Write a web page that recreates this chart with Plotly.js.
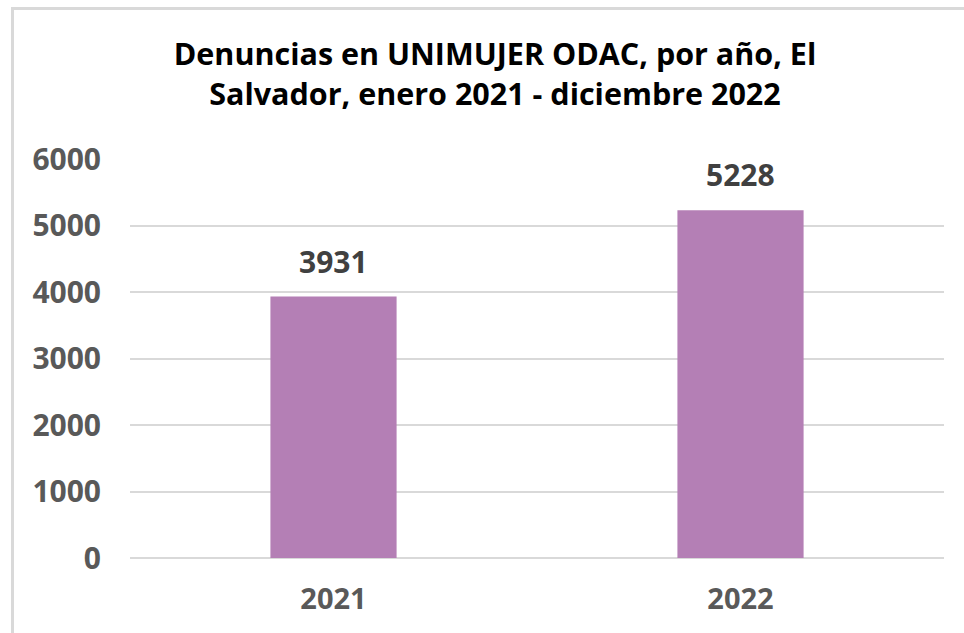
<!DOCTYPE html>
<html>
<head>
<meta charset="utf-8">
<script src="https://cdn.plot.ly/plotly-3.0.1.min.js"></script>
<style>
  html, body { margin: 0; padding: 0; background: #ffffff; overflow: hidden; }
  #wrap { position: relative; width: 964px; height: 633px; }
  #chart { position: absolute; left: 0; top: 0; width: 964px; height: 633px; }
  #frame { position: absolute; left: 11px; top: 7px; width: 980px; height: 660px;
           border-left: 3px solid #d9d9d9; border-top: 3px solid #d9d9d9; pointer-events: none; }
</style>
</head>
<body>
<div id="wrap">
  <div id="chart"></div>
  <div id="frame"></div>
</div>
<script>
const categories = ["2021", "2022"];
const values = [3931, 5228];
const yTicks = [0, 1000, 2000, 3000, 4000, 5000, 6000];
const titleText = "Denuncias en UNIMUJER ODAC, por año, El<br>Salvador, enero 2021 - diciembre 2022";

const FONT = "Open Sans, Noto Sans, sans-serif";

const trace = {
  type: "bar",
  x: categories,
  y: values,
  marker: { color: "#b47fb5" },
  hoverinfo: "x+y"
};

const annotations = categories.map((c, i) => ({
  x: i, y: values[i], xref: "x", yref: "y",
  text: String(values[i]),
  showarrow: false,
  yanchor: "bottom",
  yshift: 13,
  font: { family: FONT, size: 30, color: "#404040", weight: "bold" }
}));

const layout = {
  width: 964, height: 633,
  margin: { l: 130, r: 20, t: 159, b: 75 },
  paper_bgcolor: "#ffffff",
  plot_bgcolor: "#ffffff",
  bargap: 0.69,
  showlegend: false,
  title: {
    text: titleText,
    font: { family: FONT, size: 30.5, color: "#000000", weight: "bold" },
    xref: "container", x: 495 / 964, xanchor: "center",
    yref: "container", y: 1 - 65 / 633, yanchor: "top"
  },
  xaxis: {
    type: "category",
    range: [-0.5, 1.5],
    autorange: false,
    showgrid: false,
    showline: false,
    zeroline: false,
    ticks: "",
    ticklabelstandoff: 21,
    tickfont: { family: FONT, size: 29, color: "#595959", weight: "bold" }
  },
  yaxis: {
    range: [0, 6000],
    autorange: false,
    tickvals: yTicks,
    ticktext: yTicks.map(String),
    showgrid: true,
    gridcolor: "#d9d9d9",
    gridwidth: 2,
    zeroline: true,
    zerolinecolor: "#d9d9d9",
    zerolinewidth: 2,
    showline: false,
    ticks: "",
    ticklabelstandoff: 28,
    tickfont: { family: FONT, size: 30, color: "#595959", weight: "bold" }
  },
  annotations: annotations
};

Plotly.newPlot("chart", [trace], layout, { displayModeBar: false, staticPlot: true });
</script>
</body>
</html>
